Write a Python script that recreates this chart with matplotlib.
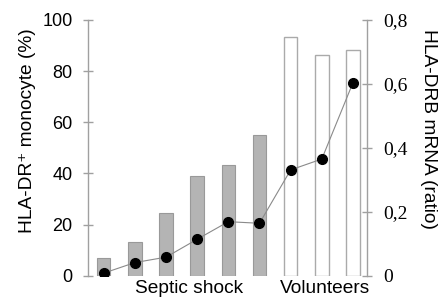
import matplotlib
matplotlib.use("Agg")
import matplotlib.pyplot as plt

# Data
groups = ["Septic shock"] * 6 + ["Volunteers"] * 3
monocyte_pct = [6.9, 13.1, 24.4, 39.0, 43.2, 55.0, 93.2, 86.3, 88.4]
mrna_ratio = [0.008, 0.041, 0.058, 0.114, 0.169, 0.164, 0.331, 0.365, 0.604]
left_ticks = [0, 20, 40, 60, 80, 100]
left_ticklabels = ["0", "20", "40", "60", "80", "100"]
right_ticks = [0, 0.2, 0.4, 0.6, 0.8]
right_ticklabels = ["0", "0,2", "0,4", "0,6", "0,8"]
group_labels = ["Septic shock", "Volunteers"]
left_label = "HLA-DR\u207a monocyte (%)"
right_label = "HLA-DRB mRNA (ratio)"

W, H = 438, 306
fig = plt.figure(figsize=(W / 100, H / 100), dpi=100)
ax_l, ax_r = 88, 367
ax_t, ax_b = 20, 275.7
ax = fig.add_axes([ax_l / W, 1 - ax_b / H, (ax_r - ax_l) / W, (ax_b - ax_t) / H])
ax2 = ax.twinx()

axis_col = "#a0a0a0"
xs = list(range(len(monocyte_pct)))
for x, v, g in zip(xs, monocyte_pct, groups):
    if g == "Septic shock":
        ax.bar(x, v, width=0.43, color="#b4b4b4", edgecolor="#999999", linewidth=0.8, zorder=2)
    else:
        ax.bar(x, v, width=0.43, color="white", edgecolor="#aaaaaa", linewidth=1.0, zorder=2)

ax2.plot(xs, mrna_ratio, color="#8a8a8a", linewidth=0.8, marker="o", markersize=7,
         markerfacecolor="black", markeredgecolor="black", zorder=3)

ax.set_xlim(-0.503, 8.45)
ax.set_ylim(0, 100)
ax2.set_ylim(0, 0.8)

for a in (ax, ax2):
    for s in a.spines.values():
        s.set_visible(False)
ax.spines["left"].set_visible(True)
ax.spines["left"].set_color(axis_col)
ax.spines["left"].set_linewidth(1.0)
ax2.spines["right"].set_visible(True)
ax2.spines["right"].set_color(axis_col)
ax2.spines["right"].set_linewidth(1.0)

ax.set_xticks([])
ax.set_yticks(left_ticks)
ax.set_yticklabels(left_ticklabels, family="Liberation Sans", fontsize=13)
ax.tick_params(axis="y", direction="inout", length=7.6, width=1.0, color=axis_col, pad=7.2)
ax2.set_yticks(right_ticks)
ax2.set_yticklabels(right_ticklabels, family="Liberation Serif", fontsize=14)
ax2.tick_params(axis="y", direction="inout", length=7.6, width=1.0, color=axis_col, pad=7.9)

fs = 13.8
fam = ["Liberation Sans", "DejaVu Sans"]
fig.text(189.5 / W, 1 - 293 / H, group_labels[0], ha="center", va="baseline",
         family=fam, fontsize=fs)
fig.text(325 / W, 1 - 293 / H, group_labels[1], ha="center", va="baseline",
         family=fam, fontsize=fs)
fig.text(31.7 / W, 1 - 131 / H, left_label, rotation=90, rotation_mode="anchor",
         ha="center", va="baseline", family=fam, fontsize=fs)
fig.text(424 / W, 1 - 129 / H, right_label, rotation=270, rotation_mode="anchor",
         ha="center", va="baseline", family=fam, fontsize=fs)

fig.savefig("out.png", dpi=100)
